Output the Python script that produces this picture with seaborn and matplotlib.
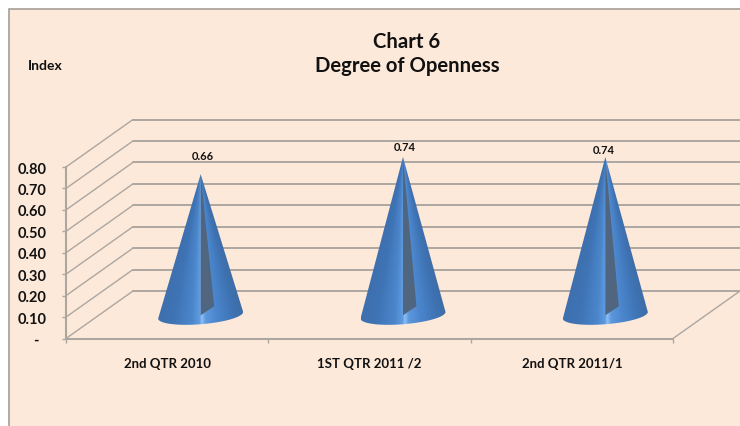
import numpy as np
import matplotlib
matplotlib.use("Agg")
import matplotlib.pyplot as plt
from matplotlib.colors import LinearSegmentedColormap
from matplotlib.patches import Polygon, Rectangle
from matplotlib.transforms import offset_copy
import pandas as pd
import seaborn as sns

categories = ["2nd QTR 2010", "1ST QTR 2011 /2", "2nd QTR 2011/1"]
values = [0.66, 0.74, 0.74]
y_ticks = [0.0, 0.1, 0.2, 0.3, 0.4, 0.5, 0.6, 0.7, 0.8]
y_labels = ["-\u00a0\u00a0", "0.10", "0.20", "0.30", "0.40", "0.50", "0.60", "0.70", "0.80"]
title_lines = ["Chart 6", "Degree of Openness"]
unit_label = "Index"
label_gaps_px = [13, 5, 2]
label_shift_px = [2, 2, -2]

W, H = 740, 427
BG = "#FDE9D9"
GRID = "#ACA6A1"
sns.set_theme(style="white")
plt.rcParams["font.family"] = ["Lato", "DejaVu Sans"]
plt.rcParams["font.weight"] = "bold"

fig = plt.figure(figsize=(W / 100, H / 100), dpi=100, facecolor="white")
fig.add_artist(Rectangle((8.5 / W, -0.01), 1.1, 1 - 9.5 / H + 0.01, transform=fig.transFigure,
                         facecolor=BG, edgecolor="#A59E98", linewidth=1.2, zorder=-5))

L, R, B, T = 66, 673, 339.5, 168
ax = fig.add_axes([L / W, 1 - B / H, (R - L) / W, (B - T) / H])
ax.patch.set_alpha(0)

df = pd.DataFrame({"category": categories, "value": values})
sns.barplot(data=df, x="category", y="value", ax=ax, errorbar=None)
for bar in ax.patches:
    bar.set_visible(False)   # the bars only set up the category scale; cones are the marks
ax.set_xlim(-0.5, 2.5)
ax.set_ylim(0, 0.8)

# pixel -> data scales for the 3-D depth
px_x = 3 / (R - L)
px_y = 0.8 / (B - T)
dx, dy = 67 * px_x, 47.5 * px_y

# walls and floor
for v in y_ticks:
    ax.plot([-0.5, -0.5 + dx], [v, v + dy], color=GRID, lw=1.0, clip_on=False, zorder=1)
    ax.plot([-0.5 + dx, 2.5 + dx], [v + dy, v + dy], color=GRID, lw=1.4, clip_on=False, zorder=1)
ax.plot([-0.5, 2.5], [0, 0], color=GRID, lw=1.5, clip_on=False, zorder=1)
ax.plot([2.5, 2.5 + dx], [0, dy], color=GRID, lw=1.0, clip_on=False, zorder=1)
ax.plot([-0.5, -0.5], [0, 0.8], color=GRID, lw=1.5, clip_on=False, zorder=1)

cmap = LinearSegmentedColormap.from_list("cone", [
    (0.00, "#3F70AE"), (0.18, "#3E73B4"), (0.40, "#4B86CB"), (0.49, "#5F9BE0"),
    (0.515, "#8FC0F5"), (0.56, "#5D98DD"), (0.70, "#4A85CC"), (0.90, "#3E72B2"), (1.00, "#3F6EA8"),
])
half_w, tilt, minor = 42.5 * px_x, 3.3 * px_y, 9.0 * px_y

# shading across the cone: narrows towards the apex
uu, hh = np.meshgrid(np.linspace(-1, 1, 300), np.linspace(0.002, 1.12, 300))
shade = np.clip(uu / np.clip(hh, 1e-3, None), -1, 1) * 0.5 + 0.5

for i, v in enumerate(values):
    cx = i + dx / 2
    cy = dy / 2 - 0.5 * px_y
    t = np.linspace(0, np.pi, 60)
    bx = cx + half_w * np.cos(t)
    by = cy + tilt * np.cos(t) - minor * np.sin(t)
    apex = v + dy / 2 - 1 * px_y
    outline = np.vstack([[cx, apex], *np.column_stack([bx, by])])
    poly = Polygon(outline, closed=True, transform=ax.transData, facecolor="none", edgecolor="none")
    ax.add_patch(poly)
    img = ax.imshow(shade, cmap=cmap, vmin=0, vmax=1, aspect="auto", zorder=3, interpolation="bilinear",
                    origin="upper", extent=[cx - half_w, cx + half_w, cy - 0.12 * (apex - cy), apex])
    img.set_clip_box(fig.bbox)
    img.set_clip_path(poly)
    # open wedge of the cone
    ax.add_patch(Polygon([[cx, apex], [cx + 13.5 * px_x, cy + 9 * px_y], [cx, cy]],
                         closed=True, facecolor="#50657F", edgecolor="none", zorder=4, clip_on=False))
    off = offset_copy(ax.transData, fig=fig, x=label_shift_px[i], y=label_gaps_px[i] + 6, units="dots")
    ax.text(cx, apex, f"{v:.2f}", transform=off, ha="center", va="center",
            fontsize=8, fontweight="bold", color="#111111", zorder=5)
ax.set_xlim(-0.5, 2.5)
ax.set_ylim(0, 0.8)

sns.despine(ax=ax, left=True, bottom=True)
ax.set_xlabel("")
ax.set_ylabel("")
ax.set_yticks(y_ticks)
ax.set_yticklabels(y_labels, fontsize=10.5, fontweight="bold", color="#111111")
ax.set_xticks(range(3))
ax.set_xticklabels(categories, fontsize=9.5, fontweight="bold", color="#111111")
ax.set_xticks([-0.5, 0.5, 1.5, 2.5], minor=True)
ax.tick_params(axis="x", which="major", length=0, pad=13)
ax.tick_params(axis="x", which="minor", length=3, width=1, color=GRID, bottom=True)
ax.tick_params(axis="y", length=3, width=1, color=GRID, pad=11, left=True)

fig.text(407 / W, 1 - 42 / H, title_lines[0], ha="center", va="center", fontsize=14.6, fontweight="bold", color="#111111")
fig.text(407 / W, 1 - 66 / H, title_lines[1], ha="center", va="center", fontsize=14.6, fontweight="bold", color="#111111")
fig.text(45.5 / W, 1 - 65.5 / H, unit_label, ha="center", va="center", fontsize=10, fontweight="bold", color="#111111")

fig.savefig("out.png", dpi=100, facecolor="white")
